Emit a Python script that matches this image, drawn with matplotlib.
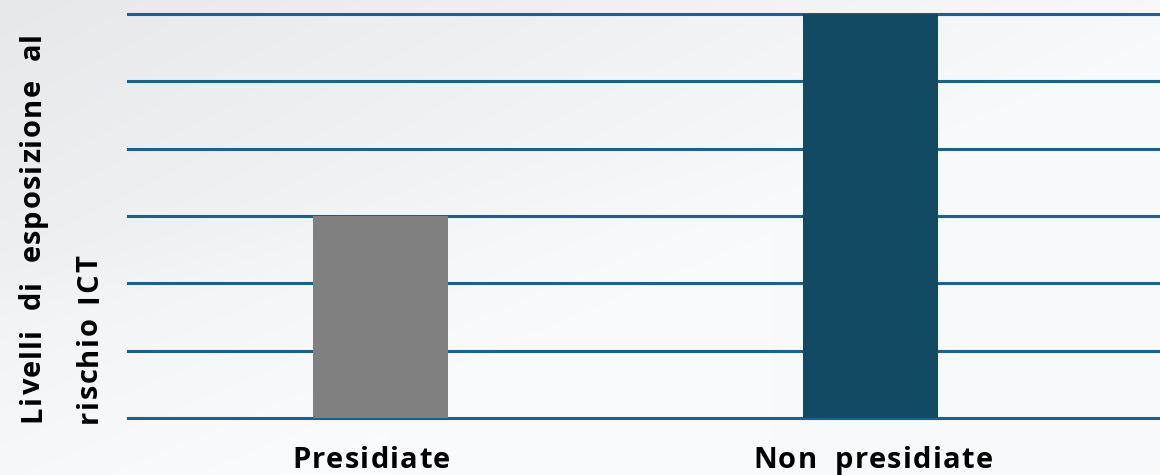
import numpy as np
import matplotlib
matplotlib.use("Agg")
import matplotlib.pyplot as plt
from matplotlib.font_manager import FontProperties, findfont
from matplotlib.ft2font import FT2Font
from matplotlib.transforms import IdentityTransform

# ---------------- data ----------------
categories = ["Presidiate", "Non presidiate"]
values = [3, 6]
bar_colors = ["#808080", "#124a63"]
y_ticks = [0, 1, 2, 3, 4, 5, 6]
ylabel_lines = ["Livelli di esposizione al", "rischio ICT"]

# ---------------- figure ----------------
W, H, DPI = 1160, 475, 100
fig = plt.figure(figsize=(W / DPI, H / DPI), dpi=DPI)

# soft light background gradient
bg = fig.add_axes([0, 0, 1, 1], zorder=-10)
yy, xx = np.mgrid[0:1:240j, 0:1:580j]
shade = np.clip(1.0 - (xx * 0.95 + yy * 0.75), 0, 1)
wave = 1.0 / (1.0 + np.exp(-(yy - (0.62 - 0.45 * xx)) / 0.03))
v = 250.0 - 17.0 * shade + 3.0 * wave * (1 - xx)
img = np.dstack([v - 3, v - 1, v + 1]) / 255.0
bg.imshow(np.clip(img, 0, 1), aspect="auto", extent=[0, 1, 0, 1], origin="upper")
bg.set_axis_off()

ax = fig.add_axes([128 / W, 57 / H, 1 - 128 / W, (461 - 57) / H])
ax.set_facecolor("none")
x = np.arange(len(categories))
ax.bar(x, values, width=0.2755, color=bar_colors, zorder=3)
ax.set_xlim(-0.5163, 1.5898)
ax.set_ylim(0, 6)
ax.set_yticks(y_ticks)
ax.set_xticks(x)
ax.set_xticklabels([""] * len(categories))
ax.set_yticklabels([])
ax.tick_params(length=0)
ax.grid(axis="y", color="#1c6189", linewidth=2.2, zorder=1)
for gl in ax.get_ygridlines():
    gl.set_clip_on(False)
ax.set_axisbelow(True)
for s in ax.spines.values():
    s.set_visible(False)


# ---------------- letter-spaced text ----------------
class Tracked:
    def __init__(self, size):
        self.fp = FontProperties(family="Open Sans", weight="bold", size=size)
        self.ft = FT2Font(findfont(self.fp))
        self.ft.set_size(size, DPI)

    def adv(self, c):
        return self.ft.load_char(ord(c)).linearHoriAdvance / 65536.0

    def natural(self, w):
        return sum(self.adv(c) for c in w)

    def length(self, w, t):
        return self.natural(w) + t * (len(w) - 1)

    def draw(self, w, start, base, t, vertical=False):
        pos = start
        for c in w:
            if vertical:
                fig.text(base, pos, c, rotation=90, rotation_mode="anchor",
                         ha="left", va="baseline", fontproperties=self.fp,
                         color="black", transform=IdentityTransform())
            else:
                fig.text(pos, base, c, ha="left", va="baseline",
                         fontproperties=self.fp, color="black",
                         transform=IdentityTransform())
            pos += self.adv(c) + t


# x category labels
fx = Tracked(21)
w0 = categories[0]
track_x = (158 - fx.natural(w0)) / (len(w0) - 1)
label_offsets = [-10, 2]
word_gap_x = 18
for i, lab in enumerate(categories):
    cx = ax.transData.transform((x[i], 0))[0] + label_offsets[i]
    words = lab.split()
    total = sum(fx.length(w, track_x) for w in words) + word_gap_x * (len(words) - 1)
    pos = cx - total / 2
    for w in words:
        fx.draw(w, pos, 7, track_x)
        pos += fx.length(w, track_x) + word_gap_x

# y label: first line justified, second line left aligned
fy = Tracked(21)
words1 = ylabel_lines[0].split()
ref_word = words1[0]
track_y = (94 - fy.natural(ref_word)) / (len(ref_word) - 1)
y0, y1 = 53, 443
gap1 = (y1 - y0 - sum(fy.length(w, track_y) for w in words1)) / (len(words1) - 1)
pos = y0
for w in words1:
    fy.draw(w, pos, 40, track_y, vertical=True)
    pos += fy.length(w, track_y) + gap1

pos = 52
for w in ylabel_lines[1].split():
    fy.draw(w, pos, 97, track_y, vertical=True)
    pos += fy.length(w, track_y) + 14

fig.savefig("out.png", dpi=DPI)
